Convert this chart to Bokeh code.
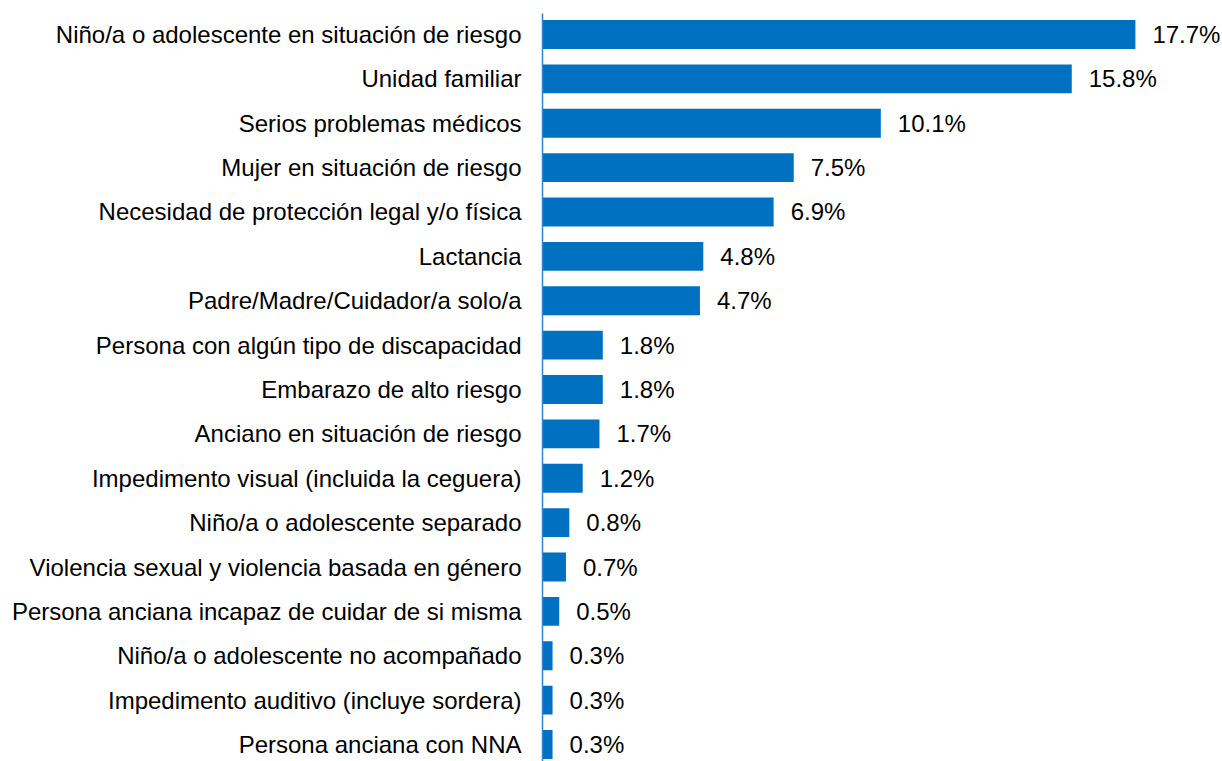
from bokeh.plotting import figure
from bokeh.models import Range1d, FixedTicker, ColumnDataSource
from bokeh.core.properties import value
from bokeh.embed import file_html
from bokeh.resources import INLINE

categories = [
    "Niño/a o adolescente en situación de riesgo",
    "Unidad familiar",
    "Serios problemas médicos",
    "Mujer en situación de riesgo",
    "Necesidad de protección legal y/o física",
    "Lactancia",
    "Padre/Madre/Cuidador/a solo/a",
    "Persona con algún tipo de discapacidad",
    "Embarazo de alto riesgo",
    "Anciano en situación de riesgo",
    "Impedimento visual (incluida la ceguera)",
    "Niño/a o adolescente separado",
    "Violencia sexual y violencia basada en género",
    "Persona anciana incapaz de cuidar de si misma",
    "Niño/a o adolescente no acompañado",
    "Impedimento auditivo (incluye sordera)",
    "Persona anciana con NNA",
]
values = [17.7, 15.8, 10.1, 7.5, 6.9, 4.8, 4.7, 1.8, 1.8, 1.7, 1.2, 0.8, 0.7, 0.5, 0.3, 0.3, 0.3]

idx = list(range(len(categories)))
labels = ["%.1f%%" % v for v in values]
src = ColumnDataSource(dict(y=idx, v=values, lab=labels))

BLUE = "#0070C0"
FONT = "Liberation Sans"
FS = "24px"

p = figure(width=1222, height=761, output_backend="svg", toolbar_location=None,
           x_range=Range1d(0, 20.3), y_range=Range1d(16.383, -0.473),
           min_border_left=542, min_border_right=0, min_border_top=13, min_border_bottom=0)
p.outline_line_color = None
p.background_fill_color = "white"
p.border_fill_color = "white"
p.xgrid.visible = False
p.ygrid.visible = False
p.xaxis.visible = False

p.hbar(y="y", right="v", left=0, height=0.65, source=src, fill_color=BLUE, line_color=None)
p.text(x="v", y="y", text="lab", source=src, x_offset=17, text_baseline="middle", text_align="left",
       text_font=value(FONT), text_font_size=value(FS), text_color="#000000")

ya = p.yaxis[0]
ya.ticker = FixedTicker(ticks=idx)
ya.major_label_overrides = {i: c for i, c in zip(idx, categories)}
ya.major_tick_line_color = None
ya.minor_tick_line_color = None
ya.axis_line_color = "#2E86D0"
ya.axis_line_width = 1.5
ya.major_label_standoff = 15
ya.major_label_text_font = FONT
ya.major_label_text_font_size = FS
ya.major_label_text_color = "#000000"

open("out.html", "w").write(file_html(p, INLINE))
